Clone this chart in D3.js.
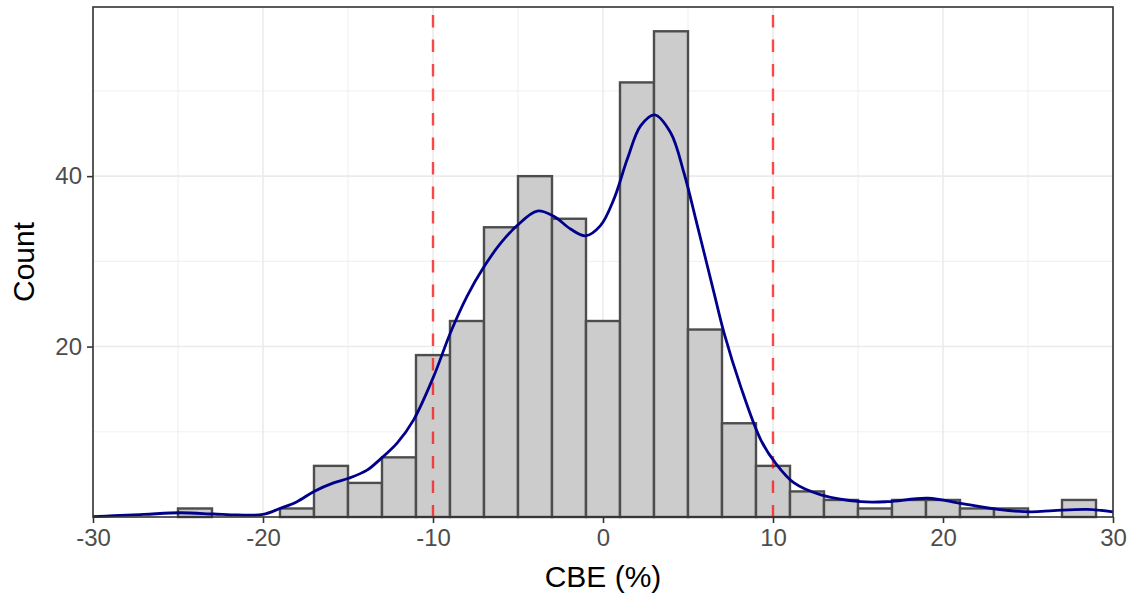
<!DOCTYPE html>
<html>
<head>
<meta charset="utf-8">
<script src="https://cdn.jsdelivr.net/npm/d3@7"></script>
<style>
  html, body { margin: 0; padding: 0; background: #fff; }
  svg { display: block; font-family: "Liberation Sans", Arial, sans-serif; }
</style>
</head>
<body>
<svg id="chart" width="1135" height="596"></svg>
<script>
// ---- Data ----
const binStarts = [-25,-23,-21,-19,-17,-15,-13,-11,-9,-7,-5,-3,-1,1,3,5,7,9,11,13,15,17,19,21,23,25,27];
const binCounts = [1,0,0,1,6,4,7,19,23,34,40,35,23,51,57,22,11,6,3,2,1,2,2,1,1,0,2];
const binWidth = 2;

const densityX = [-30,-28.8,-27,-24.9,-22.9,-21.5,-20,-19,-18,-17,-15.85,-14.96,-13.88,-13.1,-12.1,-11.14,-9.96,-8.98,-8.0,-7.02,-6.03,-5.05,-3.87,-2.9,-1.91,-1.03,-0.15,0.64,1.43,2.21,3.03,3.98,4.76,5.55,6.53,7.12,8.1,9.28,10.16,11.24,12.82,15.17,16.74,19.1,21.06,23.22,25.18,26.5,28.5,30];
const densityY = [0.05,0.15,0.3,0.5,0.35,0.24,0.3,1.0,1.8,3.0,4.0,4.55,5.5,6.79,8.7,11.4,16.5,21.6,25.9,29.3,32.1,34.2,35.9,35.3,33.8,33.0,34.2,37.3,42.0,45.9,47.2,45.1,40.4,34.2,26.3,21.6,15.3,9.06,6.3,4.0,2.6,1.8,1.8,2.2,1.6,0.9,0.6,0.75,0.9,0.6];

const vlines = [-10, 10];
const xTicks = [-30,-20,-10,0,10,20,30];
const xMinor = [-25,-15,-5,5,15,25];
const yTicks = [20,40];
const yMinor = [10,30,50];

// ---- Layout ----
const L = 93, R = 1113, T = 7, B = 517;
const svg = d3.select("#chart");

const x = d3.scaleLinear().domain([-30, 30]).range([L, R]);
const y = d3.scaleLinear().domain([0, d3.max(binCounts) * 1.05]).range([B, T]);

// grid
const grid = svg.append("g");
grid.selectAll(".ymin").data(yMinor).join("line")
  .attr("x1", L).attr("x2", R).attr("y1", d => y(d)).attr("y2", d => y(d))
  .attr("stroke", "#ebebeb").attr("stroke-width", 0.8);
grid.selectAll(".xmin").data(xMinor).join("line")
  .attr("y1", T).attr("y2", B).attr("x1", d => x(d)).attr("x2", d => x(d))
  .attr("stroke", "#ebebeb").attr("stroke-width", 0.8);
grid.selectAll(".ymaj").data(yTicks).join("line")
  .attr("x1", L).attr("x2", R).attr("y1", d => y(d)).attr("y2", d => y(d))
  .attr("stroke", "#ebebeb").attr("stroke-width", 1.6);
grid.selectAll(".xmaj").data(xTicks).join("line")
  .attr("y1", T).attr("y2", B).attr("x1", d => x(d)).attr("x2", d => x(d))
  .attr("stroke", "#ebebeb").attr("stroke-width", 1.6);

// bars
svg.append("g").selectAll("rect").data(binStarts.map((s, i) => ({s, c: binCounts[i]})))
  .join("rect")
  .attr("x", d => x(d.s))
  .attr("width", d => x(d.s + binWidth) - x(d.s))
  .attr("y", d => y(d.c))
  .attr("height", d => y(0) - y(d.c))
  .attr("fill", "#cccccc")
  .attr("stroke", "#4d4d4d")
  .attr("stroke-width", 2.4);

// dashed vlines
svg.append("g").selectAll("line").data(vlines).join("line")
  .attr("x1", d => x(d)).attr("x2", d => x(d))
  .attr("y1", T).attr("y2", B)
  .attr("stroke", "#ff0000").attr("stroke-opacity", 0.7)
  .attr("stroke-width", 2.4)
  .attr("stroke-dasharray", "12.5,12")
  .attr("stroke-dashoffset", 16.5);

// density curve
const pts = densityX.map((d, i) => [d, densityY[i]]);
const line = d3.line().x(d => x(d[0])).y(d => y(d[1])).curve(d3.curveCatmullRom.alpha(0.5));
svg.append("path").datum(pts)
  .attr("d", line)
  .attr("fill", "none")
  .attr("stroke", "#00008B")
  .attr("stroke-width", 2.8);

// border
svg.append("rect").attr("x", L).attr("y", T).attr("width", R - L).attr("height", B - T)
  .attr("fill", "none").attr("stroke", "#333333").attr("stroke-width", 1.6);

// x axis
const xAxis = d3.axisBottom(x).tickValues(xTicks).tickSize(6).tickPadding(6).tickFormat(d3.format("d"));
const gx = svg.append("g").attr("transform", `translate(0,${B})`).call(xAxis);
gx.select(".domain").remove();
gx.selectAll(".tick line").attr("stroke", "#333333").attr("stroke-width", 1.6);
gx.selectAll(".tick text").attr("fill", "#4d4d4d").attr("font-size", 24)
  .attr("font-family", "Liberation Sans, Arial, sans-serif").attr("dy", "0.71em")
  .text(d => d < 0 ? "-" + Math.abs(d) : d);

// y axis
const yAxis = d3.axisLeft(y).tickValues(yTicks).tickSize(6).tickPadding(5);
const gy = svg.append("g").attr("transform", `translate(${L},0)`).call(yAxis);
gy.select(".domain").remove();
gy.selectAll(".tick line").attr("stroke", "#333333").attr("stroke-width", 1.6);
gy.selectAll(".tick text").attr("fill", "#4d4d4d").attr("font-size", 24)
  .attr("font-family", "Liberation Sans, Arial, sans-serif");

// titles
svg.append("text").attr("x", (L + R) / 2).attr("y", 587)
  .attr("text-anchor", "middle").attr("font-size", 30).attr("fill", "#000")
  .text("CBE (%)");
svg.append("text").attr("transform", `translate(34,${(T + B) / 2}) rotate(-90)`)
  .attr("text-anchor", "middle").attr("font-size", 30).attr("fill", "#000")
  .text("Count");
</script>
</body>
</html>
